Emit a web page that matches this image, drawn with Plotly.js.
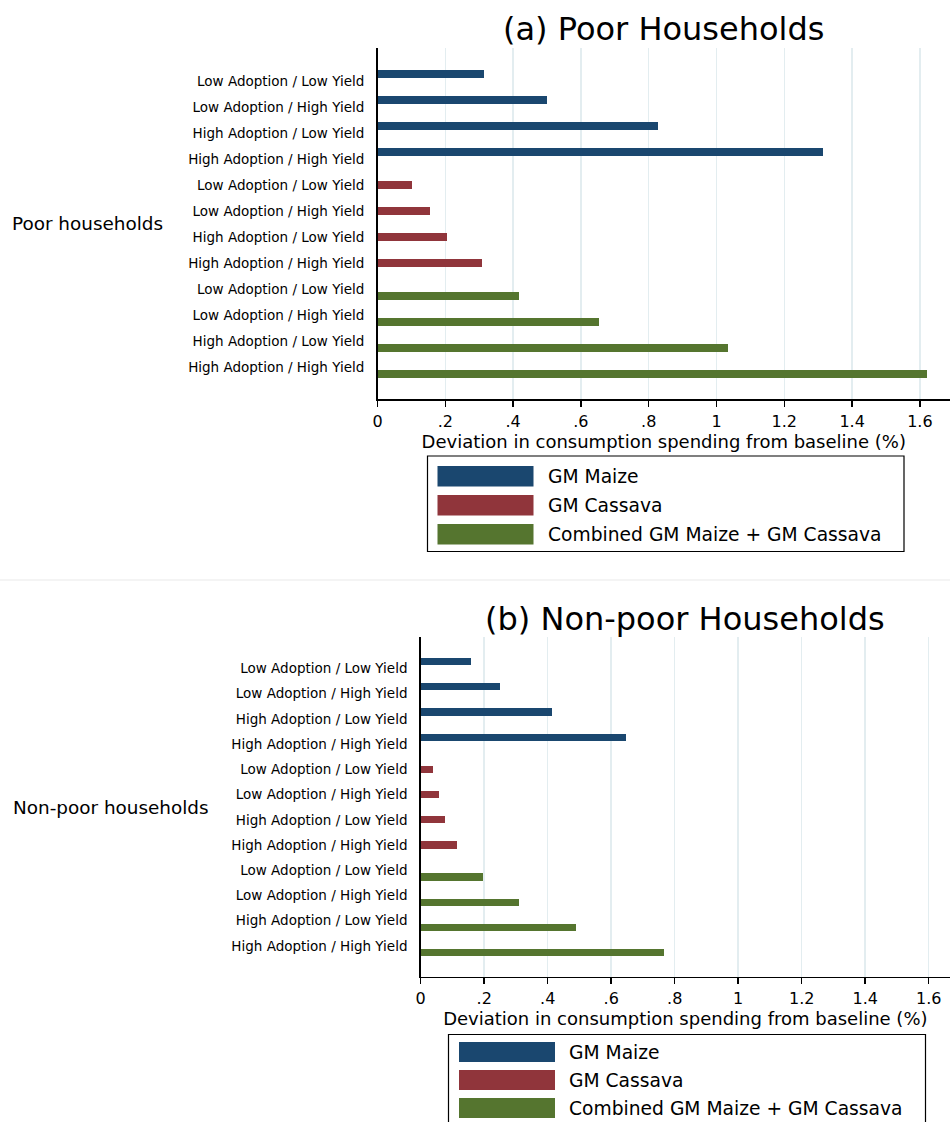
<!DOCTYPE html>
<html>
<head>
<meta charset="utf-8">
<script src="https://cdn.plot.ly/plotly-3.0.1.min.js"></script>
<style>
  html, body { margin: 0; padding: 0; background: #ffffff; }
  #chart { width: 950px; height: 1122px; }
</style>
</head>
<body>
<div id="chart"></div>
<script>
// ---------------- data ----------------
const categories = [
  "Low Adoption / Low Yield",
  "Low Adoption / High Yield",
  "High Adoption / Low Yield",
  "High Adoption / High Yield"
];
const seriesNames = ["GM Maize", "GM Cassava", "Combined GM Maize + GM Cassava"];
const seriesColors = ["#1a476f", "#90353b", "#55752f"];

const poorMaize    = [0.313, 0.500, 0.828, 1.314];
const poorCassava  = [0.102, 0.155, 0.205, 0.308];
const poorCombined = [0.416, 0.652, 1.033, 1.622];

const nonpoorMaize    = [0.158, 0.249, 0.413, 0.647];
const nonpoorCassava  = [0.038, 0.057, 0.076, 0.113];
const nonpoorCombined = [0.196, 0.310, 0.489, 0.765];

const xTickVals = [0, 0.2, 0.4, 0.6, 0.8, 1.0, 1.2, 1.4, 1.6];
const xTickText = ["0", ".2", ".4", ".6", ".8", "1", "1.2", "1.4", "1.6"];

const panelTitles = ["(a) Poor Households", "(b) Non-poor Households"];
const groupLabels = ["Poor households", "Non-poor households"];
const xAxisTitle = "Deviation in consumption spending from baseline (%)";

// ---------------- helpers ----------------
const W = 950, H = 1122;
const px = x => x / W;
const py = y => 1 - y / H;
const FONT = "DejaVu Sans, Liberation Sans, Arial, sans-serif";
const GAP = 0.27; // extra gap between crop groups (Stata over() gap)

// slot position of bar i in group g (categories evenly labelled 0..11)
const slot = (g, i) => 4 * g + i + (g - 1) * GAP;

const tickSlots = [];
const tickLabels = [];
for (let g = 0; g < 3; g++) {
  for (let i = 0; i < categories.length; i++) {
    tickSlots.push(4 * g + i);
    tickLabels.push(categories[i]);
  }
}

function makeTraces(valueSets, xa, ya) {
  return valueSets.map((vals, g) => ({
    type: "bar",
    orientation: "h",
    name: seriesNames[g],
    x: vals,
    y: vals.map((v, i) => slot(g, i)),
    width: 0.29,
    marker: { color: seriesColors[g], line: { width: 0 } },
    xaxis: xa,
    yaxis: ya,
    showlegend: false,
    hoverinfo: "x+name"
  }));
}

const traces = [
  ...makeTraces([poorMaize, poorCassava, poorCombined], "x", "y"),
  ...makeTraces([nonpoorMaize, nonpoorCassava, nonpoorCombined], "x2", "y2")
];

function xAxisDef(left, right, pxPerUnit, anchor) {
  return {
    domain: [px(left), 1],
    range: [0, (right - left) / pxPerUnit],
    anchor: anchor,
    showline: true, linecolor: "#000000", linewidth: 1.5,
    ticks: "outside", ticklen: 6, tickwidth: 1.5, tickcolor: "#000000",
    tickvals: xTickVals, ticktext: xTickText,
    tickfont: { family: FONT, size: 16, color: "#000000" },
    ticklabelstandoff: 1,
    showgrid: true, gridcolor: "#e3edf0", gridwidth: 1.5,
    zeroline: false, fixedrange: true,
    title: { text: xAxisTitle, font: { family: FONT, size: 18, color: "#000000" }, standoff: 1 }
  };
}
function yAxisDef(top, bottom, lab0, lab11, anchor) {
  const step = (lab11 - lab0) / 11;
  return {
    domain: [py(bottom), py(top)],
    range: [11 + (bottom - lab11) / step, -(lab0 - top) / step],
    anchor: anchor,
    showline: true, linecolor: "#000000", linewidth: 1.5,
    ticks: "", tickvals: tickSlots, ticktext: tickLabels,
    tickfont: { family: FONT, size: 13.5, color: "#000000" },
    ticklabelstandoff: 9,
    showgrid: false, zeroline: false, fixedrange: true
  };
}

// ---------------- legend (drawn as shapes + text) ----------------
const shapes = [];
const annotations = [];

function addLegend(box, swLeft, swTops, swH, textX) {
  shapes.push({ type: "rect", xref: "paper", yref: "paper",
    x0: px(box[0]), x1: px(box[1]), y0: py(box[3]), y1: py(box[2]),
    line: { color: "#000000", width: 1.2 }, fillcolor: "rgba(0,0,0,0)" });
  seriesNames.forEach((n, k) => {
    shapes.push({ type: "rect", xref: "paper", yref: "paper",
      x0: px(swLeft), x1: px(swLeft + 96), y0: py(swTops[k] + swH), y1: py(swTops[k]),
      line: { width: 0 }, fillcolor: seriesColors[k] });
    annotations.push({ xref: "paper", yref: "paper", x: px(textX), y: py(swTops[k] + swH / 2),
      xanchor: "left", yanchor: "middle", showarrow: false, text: n,
      font: { family: FONT, size: 18.7, color: "#000000" } });
  });
}
addLegend([427.5, 904, 456, 551.5], 437.5, [466, 495, 524], 20.5, 546);
addLegend([448.5, 925.5, 1034.5, 1130], 459, [1042, 1070, 1098], 20, 567);

// faint separator between the two panels
shapes.push({ type: "line", xref: "paper", yref: "paper", x0: 0, x1: 1, y0: py(580), y1: py(580),
  line: { color: "#f0f0f0", width: 1.5 } });

// panel titles
annotations.push({ xref: "x domain", yref: "paper", x: 0.5, y: py(29), xanchor: "center", yanchor: "middle",
  showarrow: false, text: panelTitles[0], font: { family: FONT, size: 32, color: "#000000" } });
annotations.push({ xref: "x2 domain", yref: "paper", x: 0.5, y: py(619), xanchor: "center", yanchor: "middle",
  showarrow: false, text: panelTitles[1], font: { family: FONT, size: 32, color: "#000000" } });

// group labels
annotations.push({ xref: "paper", yref: "y", x: px(10), y: 5.5, xanchor: "left", yanchor: "middle",
  showarrow: false, text: groupLabels[0], font: { family: FONT, size: 18.4, color: "#000000" } });
annotations.push({ xref: "paper", yref: "y2", x: px(11), y: 5.5, xanchor: "left", yanchor: "middle",
  showarrow: false, text: groupLabels[1], font: { family: FONT, size: 18.4, color: "#000000" } });

const layout = {
  width: W, height: H,
  margin: { l: 0, r: 0, t: 0, b: 0, pad: 0 },
  paper_bgcolor: "#ffffff", plot_bgcolor: "#ffffff",
  showlegend: false,
  bargap: 0,
  xaxis: xAxisDef(377.5, 950, 339, "y"),
  yaxis: yAxisDef(48, 399, 81, 367, "x"),
  xaxis2: xAxisDef(420.7, 950, 317.5, "y2"),
  yaxis2: yAxisDef(636.7, 976.7, 668.3, 946, "x2"),
  shapes: shapes,
  annotations: annotations,
  font: { family: FONT, color: "#000000" }
};

Plotly.newPlot("chart", traces, layout, { displayModeBar: false, staticPlot: true });
</script>
</body>
</html>
